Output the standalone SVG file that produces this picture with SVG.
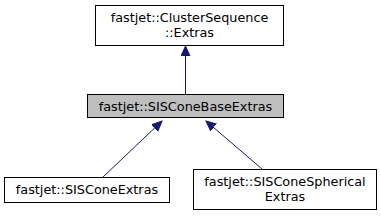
<svg xmlns="http://www.w3.org/2000/svg" width="381" height="216" viewBox="0 0 381 216">
<style>
.box{fill:#fff;stroke:#000;stroke-width:1}
.cur{fill:#bfbfbf;stroke:#000;stroke-width:1}
text{font-family:"DejaVu Sans",sans-serif;font-size:12.8px;text-anchor:middle;fill:#000}
.edge{stroke:#191970;stroke-width:1;fill:none}
</style>
<defs>
<marker id="ah" markerWidth="12" markerHeight="12" refX="10" refY="5" orient="auto" markerUnits="userSpaceOnUse">
<path d="M0,0.5 L10,5 L0,9.5 Z" fill="#191970" stroke="#191970"/>
</marker>
</defs>
<g id="connectors">
<path class="edge" d="M185.5,94 L185.5,46" marker-end="url(#ah)"/>
<path class="edge" d="M103,177 L162,121" marker-end="url(#ah)"/>
<path class="edge" d="M262,169 L206,121" marker-end="url(#ah)"/>
</g>
<g id="node-clusterseq-extras">
<rect class="box" x="95.5" y="5.5" width="188" height="40"/>
<text x="189.5" y="22">fastjet::ClusterSequence</text>
<text x="189.5" y="37">::Extras</text>
</g>
<g id="node-siscone-base-extras">
<rect class="cur" x="87.5" y="94.5" width="196" height="23"/>
<text x="185.5" y="110.5">fastjet::SISConeBaseExtras</text>
</g>
<g id="node-siscone-extras">
<rect class="box" x="4.5" y="177.5" width="165" height="25"/>
<text x="87" y="194">fastjet::SISConeExtras</text>
</g>
<g id="node-siscone-spherical-extras">
<rect class="box" x="193.5" y="169.5" width="183" height="40"/>
<text x="285" y="186">fastjet::SISConeSpherical</text>
<text x="285" y="201">Extras</text>
</g>
</svg>
